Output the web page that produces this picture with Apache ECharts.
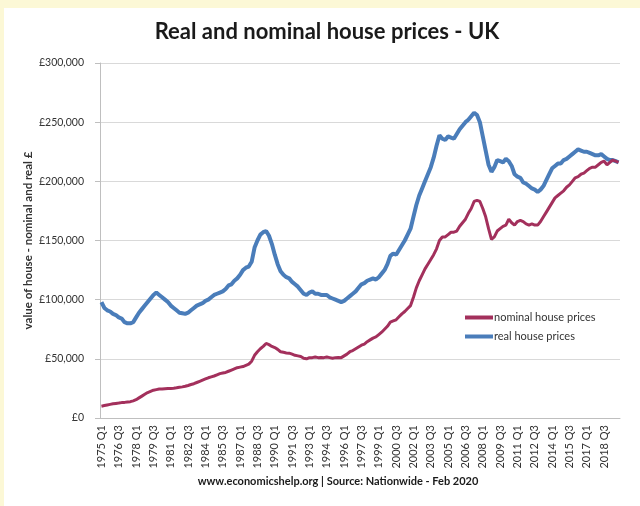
<!DOCTYPE html>
<html>
<head>
<meta charset="utf-8">
<script src="https://cdn.jsdelivr.net/npm/echarts@6/dist/echarts.min.js"></script>
<style>
html,body{margin:0;padding:0;background:#fff;}
#c{width:640px;height:506px;}
</style>
</head>
<body>
<div id="c"></div>
<script>
// Quarter labels 1975 Q1 .. 2019 Q4
const startYear = 1975;
const quarters = [];
for (let y = startYear; y <= 2019; y++) for (let q = 1; q <= 4; q++) quarters.push(y + ' Q' + q);

// Values in £ thousands
const realPrices = [
98,93,91,90,88,87,85,84,81,80,80,81,85,89,92,95,98,101,104,106,
104,102,100,98,95,93,91,89,88.5,88,89,91,93,95,96,97,99,100,102,104,
105,106,107,109,112,113,116,118,121,125,127,128,132,144,150,155,157,158,154,147,
138,130,124,121,119,118,115,113,111,108,105,104,106,107,105,105,104,104,104,102,
101,100,99,98,99,101,103,105,107,110,113,114,116,117,118,117,119,122,125,130,
137,139,138,142,146,150,155,160,170,180,188,194,200,206,212,220,230,239,236,235,
238,237,236,240,244,247,250,252,255,258,256,250,238,226,214,208,212,218,217,216,
219,217,213,206,204,203,199,198,196,194,193,191,193,196,201,206,211,213,215,215,
218,219,221,223,225,227,226,225,225,224,223,222,222,223,221,219,218,218,217,216
];
const nominalPrices = [
10,10.5,11,11.5,12,12.3,12.6,13,13.2,13.5,13.8,14.5,15.5,17,18.5,20,21.5,22.5,23.5,24,
24.5,24.5,24.8,25,25,25.2,25.5,26,26.3,26.8,27.5,28.3,29,30,31,32,33,34,34.8,35.5,
36.5,37.5,38,38.5,39.5,40.5,41.5,42.5,43,43.5,44.5,45.5,48,53,56,58.5,60.5,63,62,60.5,
59.5,58,56,55.5,55,54.8,54,53,52.5,52,50.5,50,51,51,51.5,51,51.2,51,51.5,51,
50.5,51,51.2,51,52.5,54,56,57,58.5,60,61.5,62.5,64.5,66,67.5,68.5,70.5,72.5,75,77.5,
81,82,83,85.5,88,90,92.5,95,102,110,116,121,126,130,134,138,143,150,153,153,
155,157,157,158,162,165,168,173,177,183,184,183,177,170,160,151,153,158,160,162,
163,168,165,163,166,167,166,164,163,164,163,163,166,170,174,178,182,186,188,190,
192,195,197,200,203,204,206,207,209,211,212,212,214,216,217,214,216,218,217,216
];

const seriesNames = ['nominal house prices', 'real house prices'];
const font = 'Lato, "Open Sans", sans-serif';

const chart = echarts.init(document.getElementById('c'));
chart.setOption({
  backgroundColor: '#ffffff',
  animation: false,
  graphic: [
    {type:'rect', shape:{x:0,y:0,width:640,height:8}, style:{fill:'#fcf8d6'}, silent:true},
    {type:'rect', shape:{x:0,y:0,width:4,height:506}, style:{fill:'#fcf8d6'}, silent:true},
    {type:'text', x: 338, y: 476, style:{
      text: 'www.economicshelp.org | Source: Nationwide - Feb 2020', align: 'center',
      font: 'bold 11px Lato, "Open Sans", sans-serif', fill: '#1a1a1a'}, silent:true}
  ],
  title: {
    text: 'Real and nominal house prices - UK',
    left: 322, top: 16, textAlign: 'center',
    textStyle: {fontFamily: font, fontSize: 22, fontWeight: 'bold', color: '#1a1a1a'}
  },
  legend: {
    orient: 'vertical', left: 460, top: 307, itemGap: 8,
    itemWidth: 28, itemHeight: 4, icon: 'rect',
    data: seriesNames,
    textStyle: {fontFamily: font, fontSize: 11, color: '#333', padding: [0,0,0,-4]}
  },
  grid: {left: 100, right: 20, top: 63, bottom: 88, containLabel: false},
  xAxis: {
    type: 'category', data: quarters, boundaryGap: true,
    axisLine: {lineStyle: {color: '#bfbfbf'}},
    axisTick: {show: false},
    axisLabel: {interval: 5, rotate: 90, fontFamily: font, fontSize: 11, color: '#333', margin: 7}
  },
  yAxis: {
    type: 'value', min: 0, max: 300000, interval: 50000,
    name: 'value of house - nominal and real £', nameLocation: 'middle', nameGap: 66, nameRotate: 90,
    nameMoveOverlap: false,
    nameTextStyle: {fontFamily: font, fontSize: 11.5, fontWeight: 'bold', color: '#333'},
    axisLine: {show: true, lineStyle: {color: '#bfbfbf'}},
    axisTick: {show: true, length: 5, lineStyle: {color: '#bfbfbf'}},
    splitLine: {lineStyle: {color: '#d9d9d9', width: 1}},
    axisLabel: {
      fontFamily: font, fontSize: 10.5, color: '#333', margin: 16,
      formatter: v => '£' + v.toLocaleString('en-GB')
    }
  },
  series: [
    {name: seriesNames[0], type: 'line', data: nominalPrices.map(v => v * 1000), showSymbol: false,
     lineStyle: {color: '#a3305c', width: 3}, itemStyle: {color: '#a3305c'}, z: 3},
    {name: seriesNames[1], type: 'line', data: realPrices.map(v => v * 1000), showSymbol: false,
     lineStyle: {color: '#4a7dba', width: 4}, itemStyle: {color: '#4a7dba'}, z: 2}
  ]
});
</script>
</body>
</html>
